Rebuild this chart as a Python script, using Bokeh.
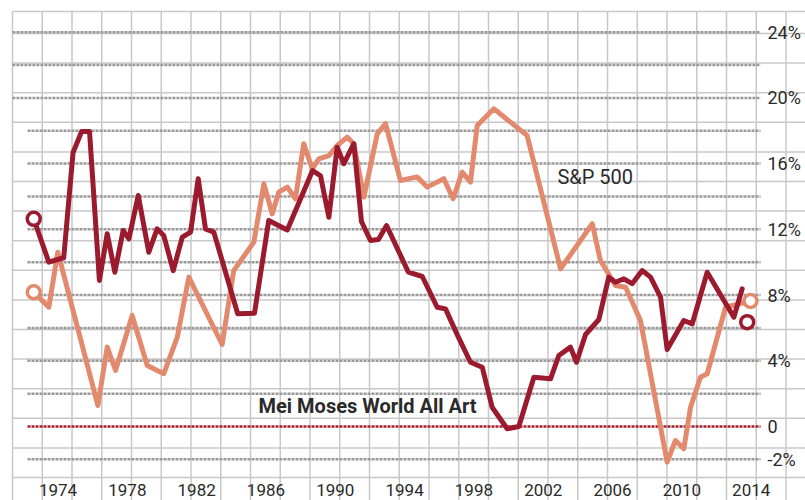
from bokeh.plotting import figure
from bokeh.models import Range1d
from bokeh.core.properties import value
from bokeh.embed import file_html
from bokeh.resources import INLINE

# ---- data (annualised returns, %) ----
art_years = [1972.60, 1973.47, 1974.33, 1974.87, 1975.36, 1975.82, 1976.39, 1976.84, 1977.28, 1977.76,
             1978.09, 1978.63, 1979.24, 1979.72, 1980.10, 1980.65, 1981.17, 1981.65, 1982.09, 1982.51,
             1982.99, 1984.37, 1985.34, 1986.16, 1987.23, 1988.69, 1989.15, 1989.63, 1990.11, 1990.49,
             1991.07, 1991.51, 1992.03, 1992.49, 1992.96, 1994.22, 1995.02, 1995.88, 1996.36, 1997.11,
             1997.80, 1998.48, 1999.05, 1999.92, 2000.59, 2001.46, 2002.42, 2002.90, 2003.57, 2003.92,
             2004.44, 2005.21, 2005.78, 2006.17, 2006.65, 2007.13, 2007.71, 2008.19, 2008.77, 2009.15,
             2010.11, 2010.60, 2011.46, 2013.00, 2013.48]
art = [12.64, 10.0, 10.27, 16.68, 17.95, 17.95, 8.89, 11.73, 9.39, 11.93,
       11.42, 14.06, 10.61, 12.03, 11.63, 9.49, 11.52, 11.83, 15.08, 12.03,
       11.83, 6.86, 6.90, 12.54, 11.96, 15.58, 15.25, 12.74, 17.0, 15.99,
       17.21, 12.48, 11.32, 11.38, 12.23, 9.39, 9.13, 7.26, 7.16, 5.42,
       3.91, 3.61, 1.17, -0.14, 0.0, 3.0, 2.90, 4.32, 4.83, 3.91,
       5.60, 6.51, 9.09, 8.78, 8.99, 8.69, 9.49, 9.09, 7.87, 4.69,
       6.45, 6.25, 9.39, 6.65, 8.38]

sp_years = [1972.60, 1973.47, 1973.99, 1976.30, 1976.84, 1977.32, 1978.28, 1979.15, 1980.10, 1980.88,
            1981.55, 1983.47, 1984.14, 1985.30, 1985.88, 1986.36, 1986.74, 1987.23, 1987.70, 1988.18,
            1988.67, 1989.05, 1989.63, 1990.11, 1990.69, 1991.07, 1991.65, 1992.42, 1992.90, 1993.76,
            1994.73, 1995.30, 1996.26, 1996.80, 1997.32, 1997.80, 1998.19, 1999.15, 2001.07, 2003.00,
            2004.83, 2005.30, 2006.17, 2006.75, 2007.61, 2009.15, 2009.63, 2010.11, 2010.50, 2011.07,
            2011.46, 2012.52, 2013.96]
sp = [8.17, 7.26, 10.61, 1.28, 4.83, 3.41, 6.76, 3.71, 3.21, 5.42,
      9.09, 4.99, 9.49, 11.22, 14.77, 12.95, 14.26, 14.57, 13.86, 17.21,
      15.68, 16.29, 16.49, 17.10, 17.61, 17.21, 13.96, 17.81, 18.44, 14.97,
      15.19, 14.57, 15.08, 13.86, 15.48, 14.87, 18.32, 19.34, 17.71, 9.60,
      12.34, 10.10, 8.58, 8.48, 6.45, -2.17, -0.85, -1.36, 1.17, 3.00,
      3.21, 7.26, 7.64]

art_marker_years = [1972.60, 2013.77]
art_marker_vals = [12.64, 6.35]
sp_marker_years = [1972.60, 2013.96]
sp_marker_vals = [8.17, 7.64]

ref_levels = [-2, 0, 2, 4, 6, 8, 10, 12, 14, 16, 18, 20, 22, 24]
y_ticks = [24, 20, 16, 12, 8, 4, 0, -2]
y_tick_labels = ["24%", "20%", "16%", "12%", "8%", "4%", "0", "-2%"]
x_ticks = [1974, 1978, 1982, 1986, 1990, 1994, 1998, 2002, 2006, 2010, 2014]
x_tick_labels = [str(v) for v in x_ticks]

DARK = "#9b1a2e"
LIGHT = "#e2896e"
TXT = "#2a2a2a"

W, H = 805, 500
p = figure(width=W, height=H, output_backend="svg", toolbar_location=None,
           x_range=Range1d(1970.682, 2017.133), y_range=Range1d(-4.504, 25.928),
           x_axis_location=None, y_axis_location=None, min_border=0,
           outline_line_color=None, background_fill_color="white",
           border_fill_color="white")
p.grid.visible = False

# graph-paper background in pixel space
p.extra_x_ranges = {"px": Range1d(0, W)}
p.extra_y_ranges = {"py": Range1d(H, 0)}
vx = [12 + 29.75 * k for k in range(27)]
hy = [11] + [33 + 29.6 * k for k in range(16)]
p.segment(x0=vx, x1=vx, y0=[11] * len(vx), y1=[H] * len(vx),
          x_range_name="px", y_range_name="py", line_color="#c8c8c8", line_width=1.5)
p.segment(x0=[12] * len(hy), x1=[W] * len(hy), y0=hy, y1=hy,
          x_range_name="px", y_range_name="py", line_color="#c8c8c8", line_width=1.5)

# dotted reference lines at every 2%
gray_lv = [v for v in ref_levels if v != 0]
x_start = [1971.37 if v >= 20 else 1972.24 for v in gray_lv]
p.segment(x0=x_start, x1=[2014.54] * len(gray_lv), y0=gray_lv, y1=gray_lv,
          line_color="#999999", line_width=2.5, line_dash="3 1")
p.segment(x0=[1972.24], x1=[2014.54], y0=[0], y1=[0],
          line_color="#a3202f", line_width=2.5, line_dash="3 1")

# series
p.line(sp_years, sp, line_color=LIGHT, line_width=5, line_join="round", line_cap="round")
p.line(art_years, art, line_color=DARK, line_width=5, line_join="round", line_cap="round")
p.scatter(sp_marker_years, sp_marker_vals, size=13, fill_color="white",
          line_color=LIGHT, line_width=3.5)
p.scatter(art_marker_years, art_marker_vals, size=13, fill_color="white",
          line_color=DARK, line_width=3.5)

# tick labels
p.text(x=[2014.94] * len(y_ticks), y=y_ticks, text=y_tick_labels,
       text_font=value("Roboto"), text_font_size="18px", text_color=TXT,
       text_align="left", text_baseline="middle")
p.text(x=x_ticks, y=[-3.895] * len(x_ticks), text=x_tick_labels,
       text_font=value("Roboto"), text_font_size="17px", text_color=TXT,
       text_align="center", text_baseline="middle")

# series labels
p.text(x=[2002.82], y=[15.16], text=["S&P 500"], text_font=value("Roboto"),
       text_font_size="20px", text_color=TXT, text_align="left", text_baseline="middle")
p.text(x=[1985.57], y=[1.22], text=["Mei Moses World All Art"], text_font=value("Roboto"),
       text_font_size="20px", text_font_style="bold", text_color=TXT,
       text_align="left", text_baseline="middle")

open("out.html", "w").write(file_html(p, INLINE))
